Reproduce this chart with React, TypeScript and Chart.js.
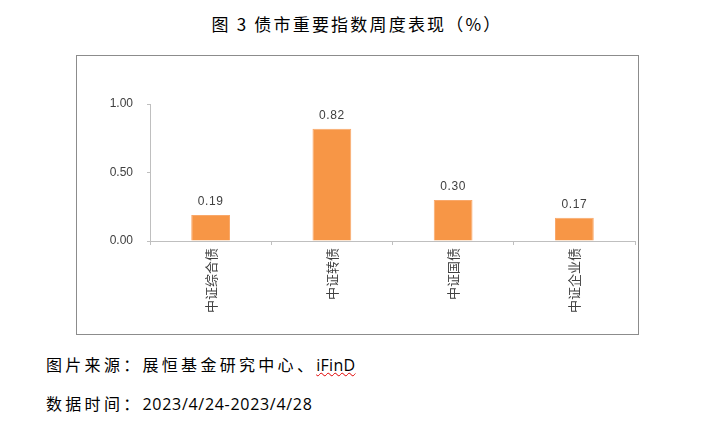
import React, { useEffect, useRef } from "react";
import { Chart, registerables } from "chart.js";

Chart.register(...registerables);

const categories = ["中证综合债", "中证转债", "中证国债", "中证企业债"];
const values = [0.19, 0.82, 0.3, 0.17];
const yTicks = [0, 0.5, 1.0];

const title = "图 3 债市重要指数周度表现（%）";
const sourceLabel = "图片来源：";
const sourceText = "展恒基金研究中心、";
const sourceBrand = "iFinD";
const dateLabel = "数据时间：";
const dateText = "2023/4/24-2023/4/28";

const valueLabels = {
  id: "valueLabels",
  afterDatasetsDraw(chart: any) {
    const ctx = chart.ctx;
    const meta = chart.getDatasetMeta(0);
    ctx.save();
    ctx.font = "12px 'Liberation Sans', Arial, sans-serif";
    ctx.fillStyle = "#404040";
    ctx.textAlign = "center";
    ctx.textBaseline = "bottom";
    try {
      (ctx as any).letterSpacing = "0.6px";
    } catch (e) {}
    meta.data.forEach((bar: any, i: number) => {
      const v = chart.data.datasets[0].data[i] as number;
      ctx.fillText(v.toFixed(2), bar.x, bar.y - 7);
    });
    ctx.restore();
  },
};

function BarChart() {
  const ref = useRef<HTMLCanvasElement | null>(null);
  useEffect(() => {
    if (!ref.current) return;
    const chart = new Chart(ref.current, {
      type: "bar",
      data: {
        labels: categories,
        datasets: [
          {
            data: values,
            backgroundColor: "#F79646",
            borderColor: "#F9A86A",
            borderWidth: 1,
            barPercentage: 0.32,
            categoryPercentage: 1,
          },
        ],
      },
      options: {
        animation: false,
        responsive: false,
        maintainAspectRatio: false,
        devicePixelRatio: 1,
        layout: { padding: { top: 48, right: 3, left: 0, bottom: 0 } },
        plugins: {
          legend: { display: false },
          tooltip: { enabled: false },
          title: { display: false },
        },
        scales: {
          x: {
            type: "category",
            grid: {
              display: true,
              drawOnChartArea: false,
              drawTicks: true,
              tickLength: 4,
              color: "#BFBFBF",
              offset: true,
            },
            border: { display: true, color: "#BFBFBF", width: 1 },
            ticks: {
              minRotation: 90,
              maxRotation: 90,
              autoSkip: false,
              padding: 3,
              color: "#404040",
              font: { family: "'Noto Sans CJK SC', sans-serif", size: 13 },
            },
            afterFit(scale: any) {
              scale.height = 93;
            },
          },
          y: {
            min: 0,
            max: 1,
            afterBuildTicks(scale: any) {
              scale.ticks = yTicks.map((v) => ({ value: v }));
            },
            grid: {
              display: true,
              drawOnChartArea: false,
              drawTicks: true,
              tickLength: 3,
              color: "#BFBFBF",
            },
            border: { display: true, color: "#BFBFBF", width: 1 },
            ticks: {
              padding: 14,
              color: "#404040",
              font: { family: "'Liberation Sans', Arial, sans-serif", size: 12 },
              callback: (v: any) => Number(v).toFixed(2),
            },
            afterFit(scale: any) {
              scale.width = 73;
            },
          },
        },
      },
      plugins: [valueLabels],
    });
    return () => chart.destroy();
  }, []);
  return <canvas ref={ref} width={561} height={278} style={{ display: "block", width: 561, height: 278 }} />;
}

export default function App() {
  useEffect(() => {
    document.body.style.margin = "0";
  }, []);
  const cjk = "'Noto Sans CJK SC', sans-serif";
  return (
    <div style={{ position: "relative", width: 706, height: 422, background: "#fff", overflow: "hidden" }}>
      <div
        style={{
          position: "absolute",
          left: 0,
          width: 706,
          top: 12,
          textAlign: "center",
          fontFamily: cjk,
          fontSize: 17,
          letterSpacing: 2.2,
          color: "#000",
          lineHeight: "24px",
          paddingLeft: 4,
        }}
      >
        {title}
      </div>
      <div
        style={{
          position: "absolute",
          left: 76,
          top: 55,
          width: 561,
          height: 278,
          border: "1px solid #8C8C8C",
        }}
      >
        <BarChart />
      </div>
      <div
        style={{
          position: "absolute",
          left: 46,
          top: 352,
          fontFamily: cjk,
          fontSize: 16,
          letterSpacing: 3.3,
          lineHeight: "24px",
          color: "#000",
          whiteSpace: "nowrap",
        }}
      >
        {sourceLabel}
        {sourceText}
        <span
          style={{
            fontFamily: "'Open Sans', sans-serif",
            letterSpacing: 0.3,
            textDecorationLine: "underline",
            textDecorationStyle: "wavy",
            textDecorationColor: "#E00000",
            textDecorationThickness: 1,
          }}
        >
          {sourceBrand}
        </span>
      </div>
      <div
        style={{
          position: "absolute",
          left: 46,
          top: 391,
          fontFamily: cjk,
          fontSize: 16,
          letterSpacing: 3.3,
          lineHeight: "24px",
          color: "#000",
          whiteSpace: "nowrap",
        }}
      >
        {dateLabel}
        <span style={{ fontFamily: "'Open Sans', sans-serif", letterSpacing: 0.7 }}>{dateText}</span>
      </div>
    </div>
  );
}
